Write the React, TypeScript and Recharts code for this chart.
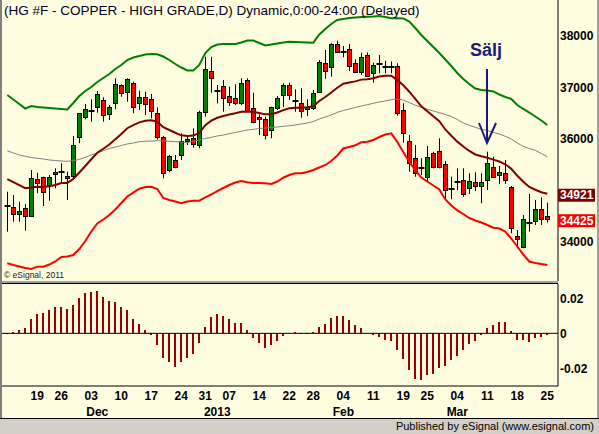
import React from "react"
import { ComposedChart, Bar, Line, XAxis, YAxis, ReferenceLine } from "recharts"

// HG #F copper, daily bars 12 Nov 2012 .. 25 Mar 2013
const opens = [34682, 34668, 34526, 34637, 34493, 35202, 35241, 35091, 35300, 35339,
  35272, 35267, 36032, 36422, 36539, 36617, 36747, 36474, 36683, 37033,
  36909, 37072, 36694, 36811, 36761, 36503, 36032, 35383, 35578, 35676,
  35948, 36013, 35870, 36507, 37312, 36928, 37020, 36825, 36780, 36694,
  37137, 36585, 36422, 36371, 36163, 36585, 36839, 37033, 36733, 36694,
  36566, 36585, 36897, 37462, 37384, 37832, 37688, 37735, 37474, 37287,
  37624, 37267, 37454, 37396, 37390, 37415, 36552, 35954, 35611, 35417,
  35241, 35709, 35754, 35494, 35007, 35150, 35189, 35027, 35144, 35072,
  35189, 35448, 35286, 35319, 35052, 34098, 33889, 34345, 34396, 34624, 34487]
const highs = [34961, 34896, 34766, 34721, 35383, 35331, 35253, 35286, 35417, 35514,
  35350, 36046, 36488, 36669, 36761, 36922, 36800, 36650, 37170, 37053,
  37170, 37104, 36928, 36909, 36864, 36605, 36046, 35676, 35676, 36098,
  36065, 36196, 36539, 37590, 37590, 37039, 37137, 37006, 37053, 37170,
  37170, 36889, 36468, 36422, 36617, 36825, 37072, 37084, 36955, 36975,
  36761, 36942, 37526, 37721, 37852, 37902, 37799, 37838, 37540, 37668,
  37676, 37474, 37624, 37513, 37500, 37462, 36683, 36065, 35870, 35611,
  35851, 35740, 36001, 35559, 35253, 35417, 35417, 35319, 35339, 35319,
  35740, 35643, 35461, 35578, 35072, 34215, 34507, 34916, 34799, 34852, 34746]
const lows = [34181, 34376, 34376, 34201, 34474, 34930, 34682, 34785, 35027, 35124,
  34799, 35202, 35904, 36371, 36324, 36500, 36324, 36357, 36566, 36811,
  36714, 36488, 36552, 36455, 36390, 35978, 35222, 35339, 35417, 35578,
  35870, 35818, 35806, 36422, 36889, 36683, 36519, 36630, 36650, 36650,
  36519, 36293, 36065, 35981, 36001, 36552, 36605, 36747, 36519, 36402,
  36435, 36552, 36889, 37162, 37201, 37676, 37579, 37312, 37279, 37234,
  37201, 37084, 37267, 37267, 37267, 36441, 35915, 35350, 35253, 35286,
  35155, 35417, 35417, 34799, 34813, 34994, 34863, 34916, 34974, 34735,
  34994, 35222, 35111, 35111, 34150, 33858, 33858, 34181, 34312, 34312, 34357]
const closes = [34682, 34526, 34591, 34493, 35233, 35136, 34949, 35241, 35339, 35339,
  35222, 35865, 36488, 36566, 36539, 36864, 36455, 36605, 37053, 36878,
  37150, 36605, 36811, 36663, 36533, 36032, 35331, 35656, 35448, 35948,
  35987, 35884, 36507, 37345, 37170, 36928, 36780, 36714, 36694, 37084,
  36539, 36324, 36371, 36065, 36605, 36780, 37033, 36839, 36733, 36533,
  36605, 36889, 37481, 37318, 37832, 37688, 37688, 37415, 37287, 37579,
  37220, 37429, 37454, 37396, 37390, 36488, 36098, 35514, 35319, 35417,
  35631, 35436, 35448, 34994, 35007, 35150, 34910, 35169, 35072, 35144,
  35514, 35241, 35339, 35189, 34248, 34033, 34423, 34345, 34624, 34423, 34425]

// bollinger bands and the slow average
const upperBand = [36844, 36757, 36669, 36581, 36630, 36611, 36601, 36591, 36581, 36572,
  36562, 36689, 36825, 36922, 37000, 37098, 37176, 37254, 37351, 37429,
  37526, 37575, 37604, 37633, 37643, 37637, 37594, 37526, 37448, 37380,
  37322, 37322, 37429, 37663, 37779, 37828, 37838, 37838, 37838, 37867,
  37906, 37906, 37857, 37809, 37828, 37848, 37867, 37883, 37877, 37871,
  37867, 37863, 38023, 38130, 38228, 38305, 38325, 38344, 38354, 38364,
  38368, 38374, 38383, 38364, 38339, 38339, 38335, 38276, 38150, 38013,
  37896, 37779, 37663, 37536, 37409, 37273, 37156, 37059, 36971, 36942,
  36932, 36913, 36854, 36805, 36767, 36650, 36572, 36503, 36426, 36348, 36260]
const midBand = [35205, 35145, 35087, 35028, 35043, 35056, 35051, 35067, 35091, 35131,
  35130, 35209, 35335, 35461, 35593, 35720, 35798, 35881, 35983, 36085,
  36197, 36258, 36312, 36343, 36351, 36325, 36216, 36163, 36109, 36058,
  36046, 36054, 36107, 36256, 36345, 36401, 36436, 36465, 36489, 36518,
  36525, 36518, 36494, 36467, 36470, 36504, 36550, 36585, 36598, 36595,
  36606, 36623, 36728, 36806, 36894, 36986, 37064, 37088, 37110, 37144,
  37151, 37171, 37205, 37220, 37219, 37134, 37035, 36908, 36767, 36625,
  36528, 36431, 36334, 36173, 36051, 35936, 35841, 35754, 35686, 35652,
  35622, 35586, 35549, 35495, 35406, 35272, 35155, 35052, 34999, 34950, 34921]
const lowerBand = [33566, 33533, 33504, 33474, 33455, 33500, 33500, 33542, 33601, 33689,
  33698, 33728, 33844, 34000, 34185, 34341, 34419, 34507, 34614, 34741,
  34867, 34941, 35019, 35052, 35058, 35013, 34838, 34799, 34770, 34735,
  34770, 34785, 34785, 34848, 34910, 34974, 35033, 35091, 35140, 35169,
  35144, 35130, 35130, 35124, 35111, 35159, 35233, 35286, 35319, 35319,
  35344, 35383, 35432, 35481, 35559, 35666, 35802, 35831, 35865, 35923,
  35933, 35968, 36026, 36075, 36098, 35929, 35734, 35539, 35383, 35237,
  35159, 35082, 35004, 34809, 34692, 34598, 34526, 34448, 34400, 34361,
  34312, 34259, 34244, 34185, 34045, 33893, 33737, 33601, 33572, 33552, 33533]
const slowAvg = [35759, 35715, 35676, 35650, 35627, 35611, 35598, 35578, 35569, 35559,
  35553, 35565, 35588, 35631, 35676, 35715, 35759, 35802, 35831, 35861,
  35890, 35909, 35935, 35943, 35948, 35954, 35948, 35943, 35935, 35929,
  35919, 35939, 35968, 35997, 36020, 36046, 36065, 36091, 36114, 36137,
  36163, 36176, 36192, 36202, 36211, 36221, 36235, 36246, 36260, 36280,
  36299, 36328, 36377, 36416, 36455, 36507, 36542, 36572, 36601, 36630,
  36655, 36683, 36708, 36728, 36753, 36767, 36747, 36698, 36644, 36605,
  36566, 36533, 36500, 36465, 36426, 36367, 36299, 36254, 36215, 36176,
  36153, 36118, 36085, 36040, 35987, 35909, 35841, 35802, 35767, 35705, 35642]

// lower panel oscillator
const osc = [-0.0008, 0.0006, 0.0019, 0.0029, 0.0082, 0.011, 0.0116, 0.0133, 0.015, 0.015,
  0.0139, 0.0162, 0.0202, 0.023, 0.0236, 0.0242, 0.0207, 0.0185, 0.0179, 0.015,
  0.0133, 0.0082, 0.0053, 0.0019, -0.001, -0.0067, -0.0141, -0.0168, -0.0192, -0.0168,
  -0.0141, -0.0118, -0.0055, 0.0036, 0.0093, 0.011, 0.0099, 0.0082, 0.0059, 0.0059,
  0.0019, -0.0027, -0.0055, -0.0084, -0.0067, -0.0044, -0.0015, -0.0002, 0.0008, 0.0003,
  -0.0008, 0.0006, 0.0036, 0.0055, 0.0088, 0.0099, 0.0099, 0.0076, 0.0048, 0.003,
  0, -0.0013, -0.0025, -0.0038, -0.0044, -0.0095, -0.0147, -0.0213, -0.0261, -0.027,
  -0.0238, -0.0232, -0.0198, -0.0187, -0.0156, -0.013, -0.0099, -0.0063, -0.0044, -0.0011,
  0.0029, 0.0048, 0.0065, 0.0065, 0.0011, -0.0038, -0.0042, -0.005, -0.003, -0.0021, -0.001]

// axis labels (bar index -> label)
const weekTickIdx = [5, 9, 14, 19, 24, 29, 33, 37, 42, 47, 51, 56, 61, 66, 70, 75, 80, 85, 90]
const weekTickLabels = ["19", "26", "03", "10", "17", "24", "31", "07", "14", "22", "28", "04", "11", "19", "25", "04", "11", "18", "25"]
const monthIdx = [15, 35, 56, 75]
const monthLabels = ["Dec", "2013", "Feb", "Mar"]
const priceTicks = [34000, 36000, 37000, 38000]
const oscTicks = [-0.02, 0, 0.02]

const N = closes.length
const lastClose = closes[N - 1]
const lastMid = midBand[N - 1]

const data = closes.map((c, i) => ({
  i,
  o: opens[i],
  h: highs[i],
  l: lows[i],
  c,
  range: [lows[i], highs[i]],
  up: upperBand[i],
  mid: midBand[i],
  dn: lowerBand[i],
  ma: slowAvg[i],
  osc: osc[i],
}))

const xDomain = [-0.883, 91.783]
const FONT = "'Liberation Sans', Arial, sans-serif"
const BG = "#FFFDE0"
const NAVY = "#1a1a7a"

function Candle(props: any) {
  const { x, y, width, height, payload } = props
  if (x == null || y == null || !payload) return null
  const { o, c, h, l } = payload
  const span = h - l || 1
  const toY = (v: number) => y + ((h - v) / span) * height
  const cx = Math.floor(x + width / 2) + 0.5
  const top = Math.round(toY(Math.max(o, c)))
  const bot = Math.round(toY(Math.min(o, c)))
  return (
    <g>
      <line x1={cx} x2={cx} y1={y} y2={y + height} stroke="#000" strokeWidth={1} />
      {o === c ? (
        <line x1={cx - 3} x2={cx + 3} y1={top} y2={top} stroke="#000" strokeWidth={2} />
      ) : (
        <rect
          x={cx - 2}
          y={top + 0.5}
          width={4}
          height={Math.max(bot - top, 1)}
          fill={c > o ? "#008000" : "#FF0000"}
          stroke="#000"
          strokeWidth={1}
        />
      )}
    </g>
  )
}

// crisp 2px histogram stick
function Stick(props: any) {
  const { x, y, width, height, fill } = props
  if (x == null || y == null) return null
  const top = Math.round(Math.min(y, y + height))
  const h = Math.round(Math.abs(height))
  if (h < 1) return null
  return <rect x={Math.round(x + width / 2) - 1} y={top} width={2} height={h} fill={fill} />
}

function PriceTick(props: any) {
  const { x, y, payload } = props
  const v = payload.value
  const txt = { fontFamily: FONT, fontSize: 12, fontWeight: 700 }
  if (v === lastMid || v === lastClose) {
    return (
      <g>
        <rect x={x - 2} y={y - 5} width={37} height={13} fill={v === lastMid ? "#800000" : "#FF0000"} />
        <text x={x} y={y + 5.5} fill="#fff" {...txt}>{v}</text>
      </g>
    )
  }
  return <text x={x} y={y + 4.5} fill="#000" {...txt}>{v}</text>
}

function OscTick(props: any) {
  const { x, y, payload } = props
  const v = payload.value
  return (
    <text x={x} y={y + 4.5} fill="#000" fontFamily={FONT} fontSize={12} fontWeight={700}>
      {v === 0 ? "0" : v.toFixed(2)}
    </text>
  )
}

function DateTick(props: any) {
  const { x, y, payload } = props
  const k = weekTickIdx.indexOf(payload.value)
  const m = monthIdx.indexOf(payload.value)
  const txt = { fontFamily: FONT, fontSize: 12, fontWeight: 700, fill: "#000", textAnchor: "middle" as const }
  return (
    <g>
      {k >= 0 && <text x={x} y={y + 14} {...txt}>{weekTickLabels[k]}</text>}
      {m >= 0 && <text x={x} y={y + 30} {...txt}>{monthLabels[m]}</text>}
    </g>
  )
}

const dateTicks = Array.from(new Set([...weekTickIdx, ...monthIdx])).sort((a, b) => a - b)

export default function App() {
  return (
    <div style={{ position: "absolute", left: 0, top: 0, width: 599, height: 434, background: BG, overflow: "hidden" }}>
      <div style={{ position: "absolute", left: 0, top: 0 }}>
        <ComposedChart width={599} height={281} data={data} margin={{ top: 0, right: 0, bottom: 0, left: 2 }}>
          <XAxis dataKey="i" type="number" domain={xDomain} allowDataOverflow hide />
          <YAxis
            orientation="right"
            width={41}
            domain={[33221, 38695]}
            allowDataOverflow
            ticks={[...priceTicks, lastMid, lastClose]}
            interval={0}
            tickSize={0}
            tickMargin={2}
            axisLine={{ stroke: "#000", strokeWidth: 1 }}
            tickLine={false}
            tick={(p: any) => <PriceTick {...p} />}
          />
          <Line dataKey="ma" type="linear" stroke="#808080" strokeWidth={1} dot={false} isAnimationActive={false} />
          <Line dataKey="up" type="linear" stroke="#008000" strokeWidth={2} dot={false} isAnimationActive={false} />
          <Line dataKey="dn" type="linear" stroke="#FF0000" strokeWidth={2} dot={false} isAnimationActive={false} />
          <Line dataKey="mid" type="linear" stroke="#800000" strokeWidth={2} dot={false} isAnimationActive={false} />
          <Bar dataKey="range" barSize={5} shape={(p: any) => <Candle {...p} />} isAnimationActive={false} />
        </ComposedChart>
      </div>

      <div style={{ position: "absolute", left: 2, top: 281, width: 556, height: 2, background: "#A0A0A0" }} />
      <div style={{ position: "absolute", left: 2, top: 283, width: 556, height: 1, background: "#000" }} />

      <div style={{ position: "absolute", left: 0, top: 284 }}>
        <ComposedChart width={599} height={134} data={data} margin={{ top: 0, right: 0, bottom: 0, left: 2 }}>
          <XAxis
            dataKey="i"
            type="number"
            domain={xDomain}
            allowDataOverflow
            ticks={dateTicks}
            interval={0}
            height={32}
            tickSize={0}
            tickMargin={0}
            axisLine={{ stroke: "#000", strokeWidth: 1 }}
            tickLine={false}
            tick={(p: any) => <DateTick {...p} />}
          />
          <YAxis
            orientation="right"
            width={41}
            domain={[-0.0301, 0.0282]}
            allowDataOverflow
            ticks={oscTicks}
            interval={0}
            tickSize={0}
            tickMargin={2}
            axisLine={{ stroke: "#000", strokeWidth: 1 }}
            tickLine={false}
            tick={(p: any) => <OscTick {...p} />}
          />
          <ReferenceLine y={0} stroke="#000" strokeWidth={1} />
          <Bar dataKey="osc" barSize={2} fill="#990000" shape={(p: any) => <Stick {...p} />} isAnimationActive={false} />
        </ComposedChart>
      </div>

      <div style={{ position: "absolute", left: 0, top: 418, width: 599, height: 1, background: "#000" }} />
      <div style={{ position: "absolute", left: 0, top: 419, width: 599, height: 15, background: "#D4D0C8" }} />
      <div style={{ position: "absolute", left: 0, top: 0, width: 2, height: 418, background: "#808080" }} />
      <div style={{ position: "absolute", left: 597, top: 0, width: 2, height: 418, background: "#A0A0A0" }} />

      <svg width={599} height={434} style={{ position: "absolute", left: 0, top: 0, pointerEvents: "none" }}>
        <text x={4} y={15} fontFamily={FONT} fontSize={13.5} fill="#000020">
          (HG #F - COPPER - HIGH GRADE,D) Dynamic,0:00-24:00 (Delayed)
        </text>
        <text x={4} y={278} fontFamily={FONT} fontSize={8.5} fill="#202020">© eSignal, 2011</text>
        <text x={486} y={56} textAnchor="middle" fontFamily={FONT} fontSize={18} fontWeight={700} fill={NAVY}>Sälj</text>
        <line x1={487} x2={487} y1={69} y2={142} stroke={NAVY} strokeWidth={2} />
        <polyline points="479,123 487,143 496,123" fill="none" stroke={NAVY} strokeWidth={2} />
        <text x={594} y={430} textAnchor="end" fontFamily={FONT} fontSize={11} fill="#000">
          Published by eSignal (www.esignal.com)
        </text>
      </svg>
    </div>
  )
}
